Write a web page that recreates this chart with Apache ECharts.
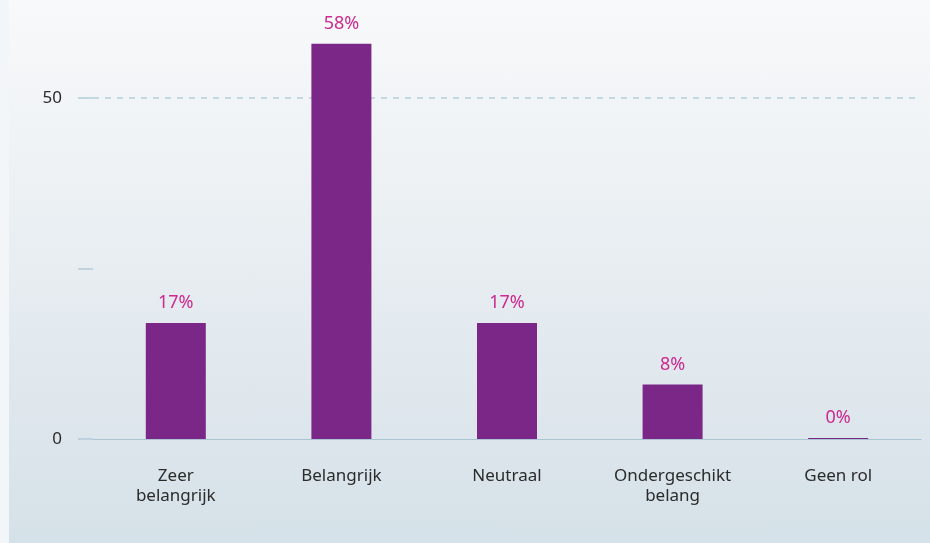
<!DOCTYPE html>
<html>
<head>
<meta charset="utf-8">
<script src="https://cdn.jsdelivr.net/npm/echarts@6/dist/echarts.min.js"></script>
<style>
  html, body { margin: 0; padding: 0; }
  #wrap {
    width: 930px; height: 543px; position: relative;
    background: linear-gradient(to bottom, #f8f9fa 0%, #eef2f5 30%, #e2e9ee 65%, #d5e1e8 100%);
  }
  #strip { position: absolute; left: 0; top: 0; width: 9px; height: 543px; background: #f3f6f8; }
  #chart { position: absolute; left: 0; top: 0; width: 930px; height: 543px; }
</style>
</head>
<body>
<div id="wrap"><div id="strip"></div><div id="chart"></div></div>
<script>
const categories = ['Zeer\nbelangrijk', 'Belangrijk', 'Neutraal', 'Ondergeschikt\nbelang', 'Geen rol'];
const values = [17, 58, 17, 8, 0];
const yTickValues = [0, 25, 50];
const yLabelValues = [0, 50];
const gridLineValue = 50;

const chart = echarts.init(document.getElementById('chart'), null, { renderer: 'canvas' });
const font = '"Noto Sans", "Open Sans", sans-serif';
chart.setOption({
  backgroundColor: 'transparent',
  animation: false,
  grid: { left: 93, right: 9, top: 30, bottom: 104, containLabel: false },
  xAxis: {
    type: 'category',
    data: categories,
    axisLine: { show: true, lineStyle: { color: '#a9c5d2', width: 1 } },
    axisTick: { show: false },
    axisLabel: { color: '#2b2b2b', fontSize: 17, fontFamily: font, margin: 27, lineHeight: 20 }
  },
  yAxis: [{
    type: 'value',
    min: 0, max: 60, interval: 25,
    axisLine: { show: false },
    axisTick: { show: true, inside: false, length: 15, customValues: yTickValues, lineStyle: { color: '#b2ccd8', width: 1.5 } },
    axisLabel: { color: '#2b2b2b', fontSize: 17, fontFamily: font, margin: 31, customValues: yLabelValues },
    splitLine: { show: false }
  }, {
    type: 'value',
    min: 0, max: 60, interval: gridLineValue,
    show: true,
    position: 'left',
    axisLine: { show: false },
    axisTick: { show: false },
    axisLabel: { show: false },
    splitLine: { show: true, showMinLine: false, showMaxLine: false, lineStyle: { color: '#b4d0db', type: [6, 6], width: 1.5 } }
  }],
  series: [{
    type: 'bar',
    data: values,
    barWidth: 60,
    barMinHeight: 1,
    itemStyle: { color: '#7b2787' },
    label: {
      show: true, position: 'top', distance: 11,
      formatter: p => p.value + '%',
      color: '#cc2b90', fontSize: 18, fontFamily: font
    }
  }]
});
</script>
</body>
</html>
